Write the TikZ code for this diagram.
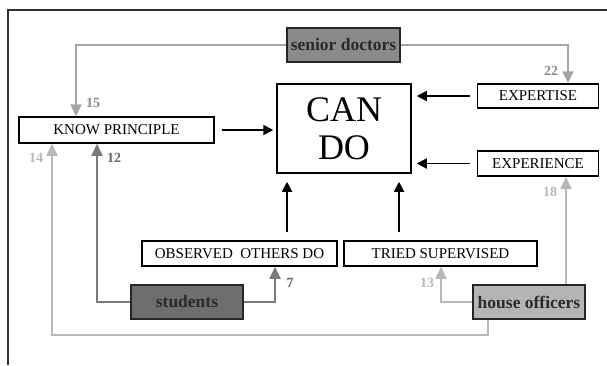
\documentclass[tikz,border=0pt]{standalone}
\usepackage{fontspec}
\setmainfont{Liberation Serif}
\usetikzlibrary{arrows.meta}
\definecolor{senfill}{HTML}{8A8A8A}
\definecolor{stufill}{HTML}{6E6E6E}
\definecolor{houfill}{HTML}{B4B4B4}
\definecolor{senln}{HTML}{A4A4A4}
\definecolor{stuln}{HTML}{7A7A7A}
\definecolor{houln}{HTML}{B8B8B8}
\definecolor{txtdark}{HTML}{2A2A2A}
\tikzset{
  plainbox/.style={draw=black, line width=1.5pt, fill=white, inner sep=0pt,
    font=\fontsize{15}{16}\selectfont},
  rolebox/.style={draw=black!85, line width=2pt, inner sep=0pt,
    minimum width=112pt, minimum height=34pt, text=txtdark,
    font=\fontsize{17.5}{19}\bfseries\selectfont},
  tipg/.style={-{Triangle[length=12pt,width=11pt]}},
  senline/.style={draw=senln, line width=1.8pt, tipg},
  stuline/.style={draw=stuln, line width=1.8pt, tipg},
  houline/.style={draw=houln, line width=1.8pt},
  blkarrow/.style={draw=black, line width=1.8pt, -{Triangle[length=10pt,width=10pt]}},
  numlab/.style={font=\fontsize{14}{15}\bfseries\selectfont, inner sep=0pt}
}
\begin{document}
\begin{tikzpicture}[x=1pt,y=-1pt]
\useasboundingbox (0,0) rectangle (607,365);
% frame
\draw[line width=1.6pt, black!80] (8,365) -- (8,10) -- (607,10);
% nodes
\node[rolebox, fill=senfill, minimum width=113pt] (sen) at (343.5,45) {senior doctors};
\node[draw=black, line width=1.5pt, inner sep=0pt, minimum width=134pt, minimum height=89pt,
      align=center, font=\fontsize{36}{38}\selectfont] (can) at (344,128.5) {CAN\\DO};
\node[plainbox, minimum width=121pt, minimum height=24pt] (expt) at (538,96) {EXPERTISE};
\node[plainbox, minimum width=121pt, minimum height=25pt] (expc) at (538,163.5) {EXPERIENCE};
\node[plainbox, minimum width=195pt, minimum height=26pt] (kp) at (116.5,130) {KNOW PRINCIPLE};
\node[plainbox, minimum width=195pt, minimum height=25pt] (obs) at (239.5,253.5) {OBSERVED\ \ OTHERS DO};
\node[plainbox, minimum width=193pt, minimum height=25pt] (tri) at (440.5,253.5) {TRIED SUPERVISED};
\node[rolebox, fill=stufill] (stu) at (187,302) {students};
\node[rolebox, fill=houfill] (hou) at (529,302) {house officers};
% black arrows into CAN DO
\draw[blkarrow, shorten <=7pt, shorten >=3pt] (kp.east) -- (kp.east -| can.west);
\draw[blkarrow, shorten <=7pt, shorten >=5pt] (expt.west) -- (expt.west -| can.east);
\draw[blkarrow, shorten <=7pt, shorten >=5pt] (expc.west) -- (expc.west -| can.east);
\draw[blkarrow, shorten <=8pt, shorten >=8pt] (287,0 |- obs.north) -- (287,0 |- can.south);
\draw[blkarrow, shorten <=8pt, shorten >=8pt] (399,0 |- tri.north) -- (399,0 |- can.south);
% senior doctors
\draw[senline] (sen.west) -| (76,0 |- kp.north);
\draw[senline] (sen.east) -| (568,0 |- expt.north);
% students
\draw[stuline] (stu.west) -| (97,0 |- kp.south);
\draw[stuline] (stu.east) -| (275,0 |- obs.south);
% house officers
\draw[houline, tipg] (hou.west) -| (441,0 |- tri.south);
\draw[houline, tipg] (566,0 |- hou.north) -- (566,0 |- expc.south);
\draw[houline, tipg] (488,0 |- hou.south) -- (488,335) -| (52,0 |- kp.south);
% numbers
\node[numlab, text=senln!85!black] (n15) at (93,103) {15};
\node[numlab, text=senln!85!black] (n22) at (551,71) {22};
\node[numlab, text=stuln!85!black] (n12) at (114,158) {12};
\node[numlab, text=stuln!85!black] (n7) at (290,283) {7};
\node[numlab, text=houln] (n14) at (36,158) {14};
\node[numlab, text=houln] (n13) at (427,283) {13};
\node[numlab, text=houln] (n18) at (550,192) {18};
\end{tikzpicture}
\end{document}
